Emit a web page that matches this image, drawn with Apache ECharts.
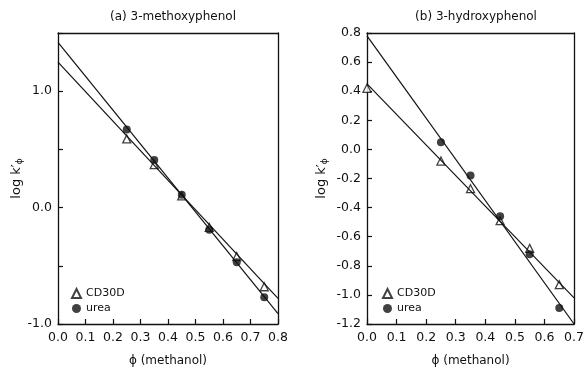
<!DOCTYPE html>
<html>
<head>
<meta charset="utf-8">
<script src="https://cdn.jsdelivr.net/npm/echarts@6/dist/echarts.min.js"></script>
<style>
  html, body { margin: 0; padding: 0; background: #fff; }
  #chart { width: 587px; height: 374px; }
</style>
</head>
<body>
<div id="chart"></div>
<script>
// (a) 3-methoxyphenol: log k' against methanol fraction
const phiA = [0.25, 0.35, 0.45, 0.55, 0.65, 0.75];
const cd30dA = [0.59, 0.37, 0.10, -0.17, -0.42, -0.68];
const ureaA = [0.67, 0.41, 0.11, -0.19, -0.47, -0.77];
// regression lines, endpoints at phi = 0 and phi = 0.8
const fitPhiA = [0.0, 0.8];
const fitCd30dA = [1.25, -0.78];
const fitUreaA = [1.42, -0.91];

// (b) 3-hydroxyphenol
const phiBCd = [0.0, 0.25, 0.35, 0.45, 0.55, 0.65];
const cd30dB = [0.42, -0.08, -0.27, -0.49, -0.68, -0.93];
const phiBUrea = [0.25, 0.35, 0.45, 0.55, 0.65];
const ureaB = [0.05, -0.18, -0.46, -0.72, -1.09];
// regression lines, endpoints at phi = 0 and phi = 0.7
const fitPhiB = [0.0, 0.7];
const fitCd30dB = [0.45, -1.02];
const fitUreaB = [0.78, -1.20];

const titles = ['(a) 3-methoxyphenol', '(b) 3-hydroxyphenol'];
const xName = '\u03D5 (methanol)';

const pairs = (xs, ys) => xs.map((x, i) => [x, ys[i]]);
const FONT = 'DejaVu Sans';
const INK = '#111';
const frameLine = { show: true, onZero: false, lineStyle: { color: INK, width: 1.3 } };

const axisCommon = {
  axisLine: frameLine,
  axisTick: { show: true, inside: true, length: 5, lineStyle: { color: INK, width: 1.2 } },
  splitLine: { show: false },
  axisLabel: { color: INK, fontFamily: FONT, fontSize: 12.5 }
};

function xAxis(gridIndex, max) {
  return Object.assign({}, axisCommon, {
    type: 'value', gridIndex, min: 0, max, interval: 0.1,
    name: xName, nameLocation: 'middle', nameGap: 31,
    nameTextStyle: { color: INK, fontFamily: FONT, fontSize: 12 },
    axisLabel: Object.assign({}, axisCommon.axisLabel, {
      margin: 7, formatter: v => v.toFixed(1)
    })
  });
}
// plain axis lines closing the frame on the top and right
function frameX(gridIndex, max) {
  return { type: 'value', gridIndex, min: 0, max, position: 'top',
    axisLine: frameLine, axisTick: { show: false }, axisLabel: { show: false }, splitLine: { show: false } };
}
function frameY(gridIndex, min, max) {
  return { type: 'value', gridIndex, min, max, position: 'right',
    axisLine: frameLine, axisTick: { show: false }, axisLabel: { show: false }, splitLine: { show: false } };
}

const yName = 'log k\u2032{sub|\u03D5}';
const yNameStyle = {
  color: INK, fontFamily: FONT, fontSize: 13,
  rich: { sub: { fontFamily: FONT, fontSize: 9, color: INK, verticalAlign: 'bottom', padding: [6, 0, 0, 0] } }
};

const legendStyle = { fontFamily: FONT, fontSize: 11, color: INK };

const option = {
  backgroundColor: '#fff',
  animation: false,
  title: [
    { text: titles[0], left: 168, top: 6, textAlign: 'center',
      textStyle: { fontFamily: FONT, fontSize: 12, fontWeight: 'normal', color: INK } },
    { text: titles[1], left: 471, top: 6, textAlign: 'center',
      textStyle: { fontFamily: FONT, fontSize: 12, fontWeight: 'normal', color: INK } }
  ],
  legend: [
    { data: ['CD30D', 'urea'], orient: 'vertical', left: 66, top: 283, itemGap: 4,
      itemWidth: 9, itemHeight: 9, textStyle: legendStyle },
    { data: ['CD30D', 'urea'], orient: 'vertical', left: 377, top: 283, itemGap: 4,
      itemWidth: 9, itemHeight: 9, textStyle: legendStyle }
  ],
  grid: [
    { left: 58, right: 309, top: 33, bottom: 50 },
    { left: 367, right: 11, top: 33, bottom: 50 }
  ],
  xAxis: [xAxis(0, 0.8), xAxis(1, 0.7), frameX(0, 0.8), frameX(1, 0.7)],
  yAxis: [
    Object.assign({}, axisCommon, {
      type: 'value', gridIndex: 0, min: -1.0, max: 1.5, interval: 0.5,
      name: yName, nameLocation: 'middle', nameRotate: 90, nameGap: 32,
      nameTextStyle: yNameStyle,
      axisLabel: Object.assign({}, axisCommon.axisLabel, {
        margin: 6,
        formatter: v => (Math.abs(Math.round(v * 2)) % 2 === 0 && Math.abs(v) < 1.25 ? v.toFixed(1) : '')
      })
    }),
    Object.assign({}, axisCommon, {
      type: 'value', gridIndex: 1, min: -1.2, max: 0.8, interval: 0.2,
      name: yName, nameLocation: 'middle', nameRotate: 90, nameGap: 38,
      nameTextStyle: yNameStyle,
      axisLabel: Object.assign({}, axisCommon.axisLabel, {
        margin: 6, formatter: v => (Math.abs(v) < 1e-9 ? '0.0' : v.toFixed(1))
      })
    }),
    frameY(0, -1.0, 1.5),
    frameY(1, -1.2, 0.8)
  ],
  series: [
    { type: 'line', xAxisIndex: 0, yAxisIndex: 0, data: pairs(fitPhiA, fitCd30dA),
      showSymbol: false, lineStyle: { color: INK, width: 1.2 }, silent: true },
    { type: 'line', xAxisIndex: 0, yAxisIndex: 0, data: pairs(fitPhiA, fitUreaA),
      showSymbol: false, lineStyle: { color: INK, width: 1.2 }, silent: true },
    { type: 'line', xAxisIndex: 1, yAxisIndex: 1, data: pairs(fitPhiB, fitCd30dB),
      showSymbol: false, lineStyle: { color: INK, width: 1.2 }, silent: true },
    { type: 'line', xAxisIndex: 1, yAxisIndex: 1, data: pairs(fitPhiB, fitUreaB),
      showSymbol: false, lineStyle: { color: INK, width: 1.2 }, silent: true },
    { name: 'CD30D', type: 'scatter', xAxisIndex: 0, yAxisIndex: 0, data: pairs(phiA, cd30dA),
      symbol: 'triangle', symbolSize: 8,
      itemStyle: { color: '#fff', borderColor: INK, borderWidth: 1.3 } },
    { name: 'urea', type: 'scatter', xAxisIndex: 0, yAxisIndex: 0, data: pairs(phiA, ureaA),
      symbol: 'circle', symbolSize: 8, itemStyle: { color: INK } },
    { name: 'CD30D', type: 'scatter', xAxisIndex: 1, yAxisIndex: 1, data: pairs(phiBCd, cd30dB),
      symbol: 'triangle', symbolSize: 8,
      itemStyle: { color: '#fff', borderColor: INK, borderWidth: 1.3 } },
    { name: 'urea', type: 'scatter', xAxisIndex: 1, yAxisIndex: 1, data: pairs(phiBUrea, ureaB),
      symbol: 'circle', symbolSize: 8, itemStyle: { color: INK } }
  ]
};

const chart = echarts.init(document.getElementById('chart'), null, { renderer: 'canvas' });
chart.setOption(option);
</script>
</body>
</html>
